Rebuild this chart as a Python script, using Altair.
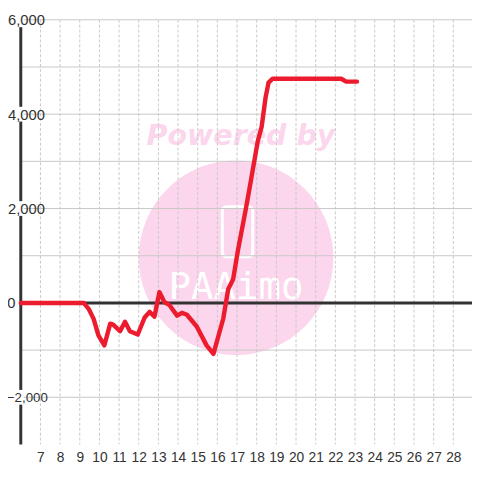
import altair as alt
import pandas as pd

# Line data (hour, value)
hours = [6.0, 9.2, 9.45, 9.7, 9.95, 10.25, 10.55, 10.7, 11.05, 11.3, 11.55, 11.95,
         12.3, 12.55, 12.8, 13.05, 13.3, 13.55, 13.95, 14.2, 14.45, 14.95, 15.45,
         15.8, 16.3, 16.55, 16.8, 17.05, 17.45, 17.7, 17.85, 18.05, 18.25, 18.45,
         18.6, 18.8, 22.3, 22.55, 23.1]
values = [0, 0, -125, -333, -690, -900, -440, -460, -600, -400, -600, -670,
          -310, -190, -290, 230, 20, -40, -270, -210, -250, -500, -900,
          -1080, -330, 290, 500, 1125, 2000, 2580, 2940, 3420, 3730, 4350,
          4670, 4750, 4750, 4690, 4690]

x_ticks = list(range(7, 29))
y_grid = list(range(-2000, 6001, 1000))
y_labels = [-2000, 0, 2000, 4000, 6000]
y_label_gaps = [-2000, 2000, 4000, 6000]

line_df = pd.DataFrame({"x": hours, "y": values})

x_scale = alt.Scale(domain=[6, 28.95], nice=False, zero=False)
y_scale = alt.Scale(domain=[-3000, 6000], nice=False, zero=False)

x_axis = alt.Axis(values=x_ticks, grid=False, domain=False, ticks=False,
                  labelFont="Liberation Sans", labelFontSize=14, labelColor="#333",
                  labelPadding=6, title=None, labelFlush=False, zindex=1)
y_axis = alt.Axis(values=y_labels, grid=False, ticks=False, domain=False,
                  labelFont="Liberation Sans", labelColor="#333",
                  labelFontSize={"condition": {"test": "datum.value < 0", "value": 13.5}, "value": 15},
                  labelPadding={"condition": [{"test": "datum.value === 0", "value": 6},
                                              {"test": "datum.value < 0", "value": -27}],
                                "value": -24},
                  labelFlush=False, title=None, zindex=1)

def X(field="x"):
    return alt.X(f"{field}:Q", scale=x_scale, axis=x_axis)

def Y(field="y"):
    return alt.Y(f"{field}:Q", scale=y_scale, axis=y_axis)

# watermark
wm_circle = alt.Chart(pd.DataFrame({"x": [16.95], "y": [958]})).mark_circle(
    size=39204, color="#fcd6ec", opacity=1).encode(x=X(), y=Y())
wm_text = alt.Chart(pd.DataFrame({"x": [17.2], "y": [3540], "t": ["Powered by"]})).mark_text(
    font="DejaVu Sans", fontSize=29, fontWeight="bold", fontStyle="italic",
    color="#fcd6ec").encode(x=X(), y=Y(), text="t:N")
wm_rect = alt.Chart(pd.DataFrame({"x": [16.25], "x2": [17.8], "y": [2040], "y2": [980]})).mark_rect(
    fill=None, stroke="white", strokeWidth=3, cornerRadius=4).encode(
    x=X(), x2="x2:Q", y=Y(), y2="y2:Q")
wm_logo = alt.Chart(pd.DataFrame({"x": [16.95], "y": [320], "t": ["PAAimo"]})).mark_text(
    font="DejaVu Sans Mono", fontSize=38, color="white").encode(x=X(), y=Y(), text="t:N")

# grid
hgrid = alt.Chart(pd.DataFrame({"y": y_grid})).mark_rule(color="#c8c8c8", strokeWidth=1).encode(y=Y())
vgrid = alt.Chart(pd.DataFrame({"x": x_ticks})).mark_rule(
    color="#c8c8c8", strokeWidth=1, strokeDash=[3, 2]).encode(x=X())

# left axis line with gaps behind labels
yline = alt.Chart(pd.DataFrame({"y": [0]})).mark_rule(color="#333", strokeWidth=3).encode(
    x=alt.value(0), y=alt.value(0), y2=alt.value(432))
gaps = alt.Chart(pd.DataFrame({"y": y_label_gaps})).mark_tick(
    orient="vertical", size=15, thickness=6, color="white", opacity=1).encode(
    x=alt.value(0), y=Y())

zero = alt.Chart(pd.DataFrame({"y": [0]})).mark_rule(color="#333", strokeWidth=3).encode(y=Y())

line = alt.Chart(line_df).mark_line(color="#ec1c2e", strokeWidth=4.5, strokeJoin="round",
                                    strokeCap="round").encode(x=X(), y=Y())

chart = alt.layer(wm_circle, wm_text, wm_rect, wm_logo, hgrid, vgrid, yline, gaps, zero, line).properties(
    width=459, height=432,
    autosize=alt.AutoSizeParams(type="none"),
    padding={"left": 13, "top": 8, "right": 0, "bottom": 24},
).configure_view(stroke=None)

chart.save("out.html", embed_options={"renderer": "svg", "actions": False})
